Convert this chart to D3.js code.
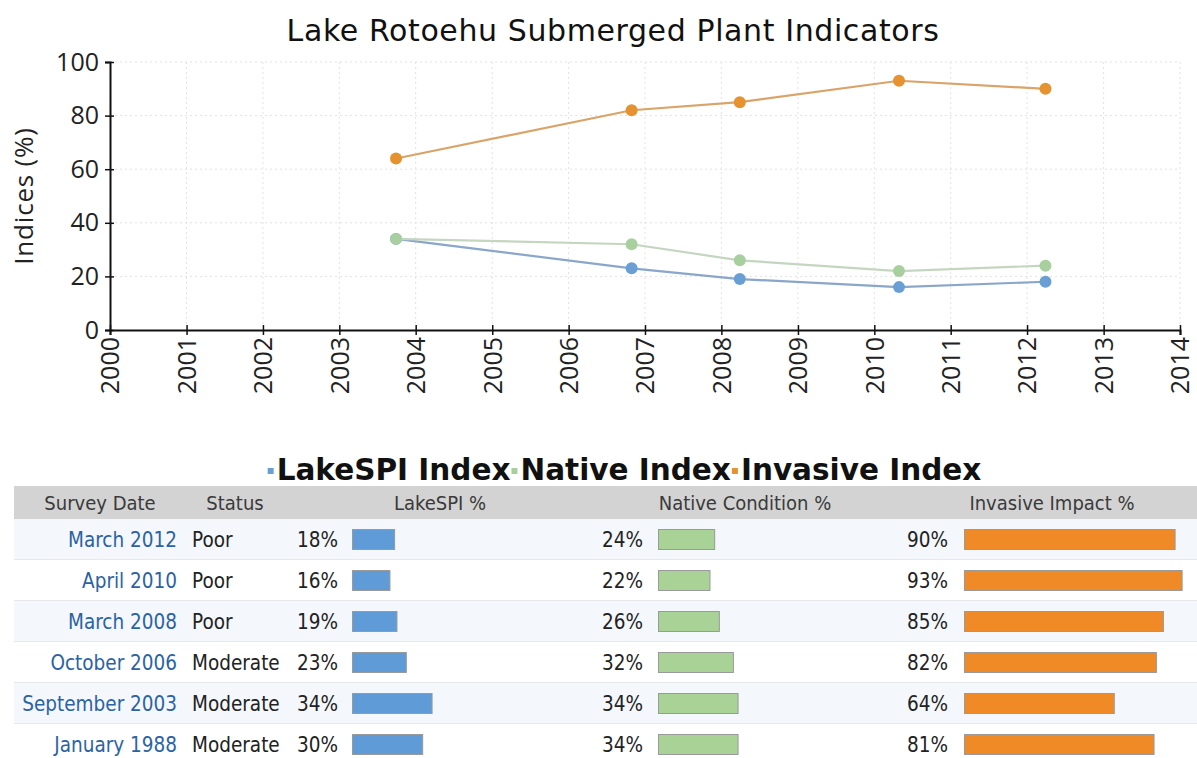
<!DOCTYPE html>
<html>
<head>
<meta charset="utf-8">
<script src="https://cdn.jsdelivr.net/npm/d3@7"></script>
<style>
  body { margin: 0; background: #fff; }
  svg { display: block; }
</style>
</head>
<body>
<svg id="chart" width="1197" height="758"></svg>
<script>
// survey data (newest first, as in the table)
const surveyDates = ["March 2012", "April 2010", "March 2008", "October 2006", "September 2003", "January 1988"];
const statusList = ["Poor", "Poor", "Poor", "Moderate", "Moderate", "Moderate"];
const lakeSPI = [18, 16, 19, 23, 34, 30];
const nativeIdx = [24, 22, 26, 32, 34, 34];
const invasiveIdx = [90, 93, 85, 82, 64, 81];

const yTicks = [0, 20, 40, 60, 80, 100];
const seriesNames = ["LakeSPI Index", "Native Index", "Invasive Index"];
const headers = ["Survey Date", "Status", "LakeSPI %", "Native Condition %", "Invasive Impact %"];

const colors = {
  lake: { line: "#8aa6c9", dot: "#6a9fd6", bar: "#5f9bd6" },
  native: { line: "#c5d6c0", dot: "#a8d09e", bar: "#a9d396" },
  invasive: { line: "#d9a469", dot: "#e6922e", bar: "#ef8a26" }
};

const parseDate = d3.timeParse("%B %Y");
const rows = surveyDates.map((s, i) => ({
  label: s,
  date: d3.timeDay.offset(parseDate(s), 28),
  status: statusList[i],
  lake: lakeSPI[i],
  native: nativeIdx[i],
  invasive: invasiveIdx[i]
}));

const svg = d3.select("#chart");

// ---- line chart ----
const plotL = 110, plotR = 1180, plotT = 62, plotB = 330;

const x = d3.scaleTime()
  .domain([new Date(2000, 0, 1), new Date(2014, 0, 1)])
  .range([plotL, plotR]);
const y = d3.scaleLinear().domain([0, 100]).range([plotB, plotT]);

svg.append("text")
  .attr("x", 613).attr("y", 41)
  .attr("text-anchor", "middle")
  .style("font-family", "DejaVu Sans")
  .style("font-size", "30px")
  .style("letter-spacing", "0.6px")
  .attr("fill", "#111")
  .text("Lake Rotoehu Submerged Plant Indicators");

// grid
const years = d3.timeYear.range(new Date(2001, 0, 1), new Date(2014, 0, 2));
svg.append("g").selectAll("line")
  .data(years).enter().append("line")
  .attr("x1", d => x(d)).attr("x2", d => x(d))
  .attr("y1", plotT).attr("y2", plotB)
  .attr("stroke", "#e2e2e2").attr("stroke-dasharray", "2,3");
svg.append("g").selectAll("line")
  .data(yTicks.slice(1)).enter().append("line")
  .attr("x1", plotL).attr("x2", plotR)
  .attr("y1", d => y(d)).attr("y2", d => y(d))
  .attr("stroke", "#e2e2e2").attr("stroke-dasharray", "2,3");

// axes
const yAxis = svg.append("g")
  .attr("transform", `translate(${plotL},0)`)
  .call(d3.axisLeft(y).tickValues(yTicks).tickSize(5).tickPadding(6));
yAxis.selectAll(".tick line").attr("x1", 4);

const xAxis = svg.append("g")
  .attr("transform", `translate(0,${plotB})`)
  .call(d3.axisBottom(x).ticks(d3.timeYear.every(1)).tickFormat(d3.timeFormat("%Y")).tickSize(5));
xAxis.selectAll(".tick line").attr("y1", -5);
xAxis.selectAll(".tick text")
  .attr("transform", "rotate(-90)")
  .attr("text-anchor", "end")
  .attr("x", -7).attr("y", 0).attr("dy", "0.35em");

[yAxis, xAxis].forEach(a => {
  a.select(".domain").attr("stroke", "#111").attr("stroke-width", 2);
  a.selectAll(".tick line").attr("stroke", "#111").attr("stroke-width", 1.5);
  a.selectAll(".tick text")
    .style("font-family", "Open Sans")
    .style("font-size", "25px")
    .attr("fill", "#222");
});

svg.append("text")
  .attr("transform", "translate(33,196) rotate(-90)")
  .attr("text-anchor", "middle")
  .style("font-family", "Open Sans")
  .style("font-size", "26px")
  .style("letter-spacing", "0.8px")
  .attr("fill", "#222")
  .text("Indices (%)");

// series, only points inside the axis range
const shown = rows.filter(r => r.date >= x.domain()[0] && r.date <= x.domain()[1])
  .sort((a, b) => a.date - b.date);

const seriesKeys = ["lake", "native", "invasive"];
seriesKeys.forEach(key => {
  const line = d3.line().x(d => x(d.date)).y(d => y(d[key]));
  svg.append("path")
    .datum(shown)
    .attr("fill", "none")
    .attr("stroke", colors[key].line)
    .attr("stroke-width", 2.2)
    .attr("d", line);
  svg.append("g").selectAll("circle")
    .data(shown).enter().append("circle")
    .attr("cx", d => x(d.date))
    .attr("cy", d => y(d[key]))
    .attr("r", 6)
    .attr("fill", colors[key].dot);
});

// legend
const legend = svg.append("g");
let lx = 0;
seriesKeys.forEach((key, i) => {
  const g = legend.append("g").attr("transform", `translate(${lx},0)`);
  g.append("rect")
    .attr("x", 0).attr("y", -12).attr("width", 6).attr("height", 6)
    .attr("fill", colors[key].dot);
  const t = g.append("text")
    .attr("x", 9).attr("y", 0)
    .style("font-family", "DejaVu Sans")
    .style("font-weight", "bold")
    .style("font-size", "29.5px")
    .attr("fill", "#111")
    .text(seriesNames[i]);
  lx += 9 + t.node().getComputedTextLength() + 1;
});
legend.attr("transform", `translate(${625 - lx / 2},480)`);

// ---- table ----
const tableLeft = 14, tableRight = 1197;
const headTop = 486, headH = 33, rowH = 41;
const rowTop = headTop + headH;

svg.append("rect")
  .attr("x", tableLeft).attr("y", headTop)
  .attr("width", tableRight - tableLeft).attr("height", headH)
  .attr("fill", "#d3d3d3");

const headX = [100, 235, 440, 745, 1052];
svg.append("g").selectAll("text")
  .data(headers).enter().append("text")
  .attr("x", (d, i) => headX[i])
  .attr("y", headTop + headH / 2)
  .attr("dy", "0.35em")
  .attr("text-anchor", "middle")
  .style("font-family", "DejaVu Sans Condensed")
  .style("font-size", "20px")
  .attr("fill", "#3a3a3a")
  .text(d => d);

const barW = d3.scaleLinear().domain([0, 100]).range([0, 234]);
const barCols = [
  { key: "lake", textX: 338, barX: 352 },
  { key: "native", textX: 643, barX: 658 },
  { key: "invasive", textX: 948, barX: 964 }
];

const rowG = svg.append("g").selectAll("g")
  .data(rows).enter().append("g")
  .attr("transform", (d, i) => `translate(0,${rowTop + i * rowH})`);

rowG.append("rect")
  .attr("x", tableLeft).attr("y", 0)
  .attr("width", tableRight - tableLeft).attr("height", rowH)
  .attr("fill", (d, i) => i % 2 === 0 ? "#f4f7fb" : "#ffffff");
rowG.append("line")
  .attr("x1", tableLeft).attr("x2", tableRight)
  .attr("y1", rowH - 0.5).attr("y2", rowH - 0.5)
  .attr("stroke", "#e8e8e8");

const cellFont = sel => sel
  .style("font-family", "DejaVu Sans Condensed")
  .style("font-size", "20.5px")
  .attr("dy", "0.35em")
  .attr("y", rowH / 2);

rowG.append("text").call(cellFont)
  .attr("x", 177).attr("text-anchor", "end")
  .attr("fill", "#2b63a3")
  .text(d => d.label);
rowG.append("text").call(cellFont)
  .attr("x", 192)
  .attr("fill", "#222")
  .text(d => d.status);

barCols.forEach(c => {
  rowG.append("text").call(cellFont)
    .attr("x", c.textX).attr("text-anchor", "end")
    .attr("fill", "#222")
    .text(d => d[c.key] + "%");
  rowG.append("rect")
    .attr("x", c.barX + 0.5).attr("y", rowH / 2 - 10)
    .attr("width", d => barW(d[c.key]))
    .attr("height", 20)
    .attr("fill", colors[c.key].bar)
    .attr("stroke", "#9a9a9a").attr("stroke-width", 1);
});
</script>
</body>
</html>
